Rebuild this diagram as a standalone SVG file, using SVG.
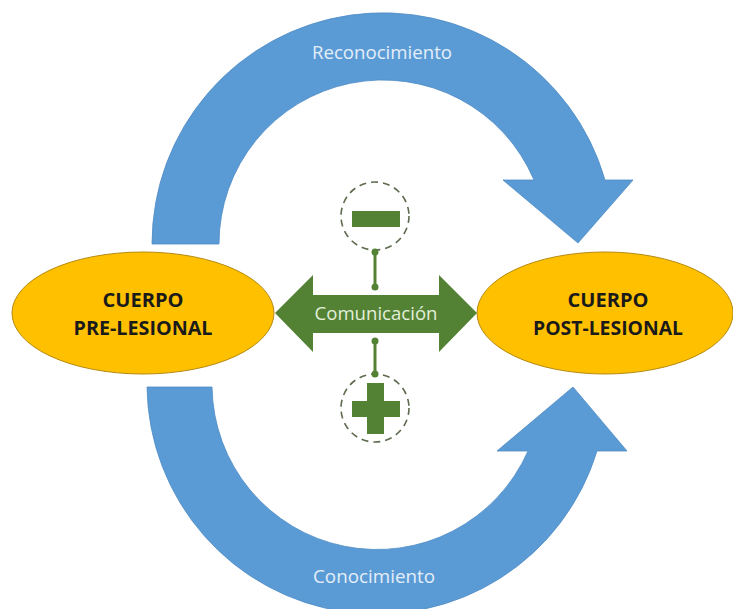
<svg xmlns="http://www.w3.org/2000/svg" width="733" height="609" viewBox="0 0 733 609">
<style>
.band{fill:#5B9BD5;stroke:#4F8BC4;stroke-width:0.8}
.bandtxt{font-family:"Open Sans","Liberation Sans",sans-serif;font-size:18px;fill:#E3EEF9;text-anchor:middle}
.body{fill:#FFC000;stroke:#B58A10;stroke-width:1}
.bodytxt{font-family:"Open Sans","Liberation Sans",sans-serif;font-weight:bold;font-size:19.5px;fill:#1a1a1a;text-anchor:middle}
.green{fill:#548235}
.ring{fill:#ffffff;stroke:#5E6B4E;stroke-width:1.6;stroke-dasharray:7 5}
.conn{stroke:#548235;stroke-width:3}
.dot{fill:#548235}
</style>
<rect width="733" height="609" fill="#ffffff"/>
<g id="reconocimiento">
<path class="band" d="M152,244 A231,231 0 0 1 605,180 L633,180 L578,243 L503,180 L534,180 A164,164 0 0 0 219,244 Z"/>
<text class="bandtxt" x="382" y="59" textLength="140" lengthAdjust="spacingAndGlyphs">Reconocimiento</text>
</g>
<g id="conocimiento">
<path class="band" d="M147,387 A230,230 0 0 0 597,451 L627,451 L573,387 L497,451 L528,451 A165,165 0 0 1 212,387 Z"/>
<text class="bandtxt" x="374" y="583" textLength="122" lengthAdjust="spacingAndGlyphs">Conocimiento</text>
</g>
<g id="pre-lesional">
<ellipse class="body" cx="143" cy="313" rx="131" ry="61"/>
<text class="bodytxt" x="143" y="307" textLength="81" lengthAdjust="spacingAndGlyphs">CUERPO</text>
<text class="bodytxt" x="143" y="335" textLength="139" lengthAdjust="spacingAndGlyphs">PRE-LESIONAL</text>
</g>
<g id="post-lesional">
<ellipse class="body" cx="605" cy="313" rx="128" ry="61"/>
<text class="bodytxt" x="608" y="307" textLength="81" lengthAdjust="spacingAndGlyphs">CUERPO</text>
<text class="bodytxt" x="608" y="335" textLength="150" lengthAdjust="spacingAndGlyphs">POST-LESIONAL</text>
</g>
<g id="comunicacion">
<path class="green" d="M275,313 L313,275 L313,295 L439,295 L439,275 L477,313 L439,352 L439,333 L313,333 L313,352 Z"/>
<text x="376" y="320" textLength="123" lengthAdjust="spacingAndGlyphs" style="font-family:'Open Sans','Liberation Sans',sans-serif;font-size:18px;fill:#E2EFDA;text-anchor:middle">Comunicación</text>
</g>
<g id="menos">
<circle class="ring" cx="375" cy="216" r="34"/>
<rect class="green" x="352" y="211" width="48" height="16"/>
</g>
<g id="mas">
<circle class="ring" cx="375" cy="408" r="34"/>
<rect class="green" x="367" y="383" width="17" height="51"/>
<rect class="green" x="352" y="401" width="48" height="16"/>
</g>
<g id="connectors">
<line class="conn" x1="375" y1="252" x2="375" y2="287"/>
<circle class="dot" cx="375" cy="252" r="3.5"/>
<circle class="dot" cx="375" cy="287" r="3.5"/>
<line class="conn" x1="375" y1="341" x2="375" y2="374"/>
<circle class="dot" cx="375" cy="341" r="3.5"/>
<circle class="dot" cx="375" cy="374" r="3.5"/>
</g>
</svg>
